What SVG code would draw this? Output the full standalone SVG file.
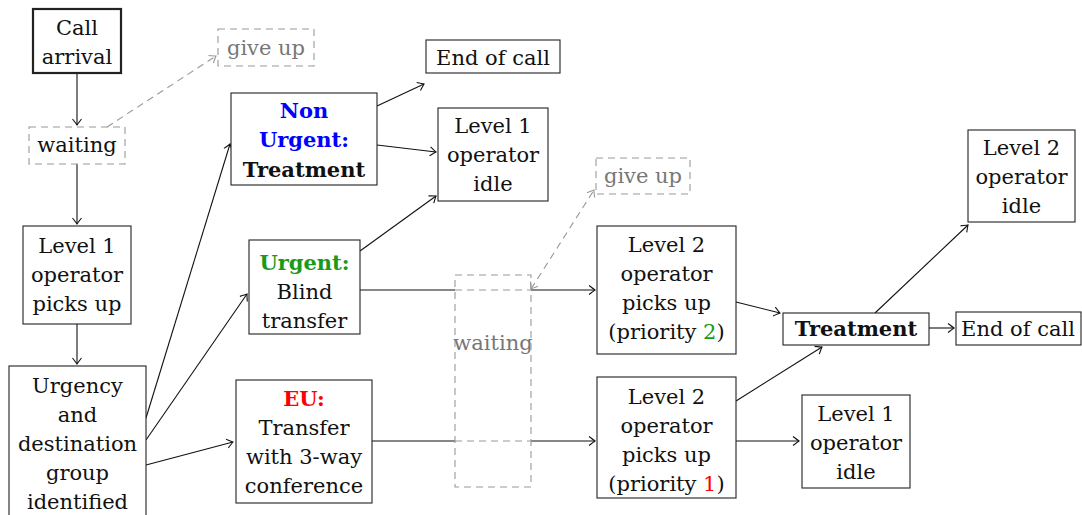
<svg xmlns="http://www.w3.org/2000/svg" width="1082" height="515" viewBox="0 0 1082 515">
<defs>
<style>
text{font-family:"DejaVu Serif","Liberation Serif",serif;font-size:21px;text-anchor:middle;fill:#111}
.b{font-weight:bold}
.g{fill:#777}
.box{fill:#fff;stroke:#222;stroke-width:1.1}
.thick{stroke-width:2.2}
.dbox{fill:none;stroke:#999;stroke-width:1.1;stroke-dasharray:7 5}
.c{fill:none;stroke:#111;stroke-width:1.1}
.dc{fill:none;stroke:#999;stroke-width:1.1;stroke-dasharray:7 5}
</style>
<marker id="ah" viewBox="-10 -6 12 12" markerWidth="12" markerHeight="12" refX="0" refY="0" orient="auto" markerUnits="userSpaceOnUse">
<path d="M-6,-4.5 Q-1.5,-1 0,0 Q-1.5,1 -6,4.5" fill="none" stroke="#111" stroke-width="1.1"/>
</marker>
<marker id="ahg" viewBox="-10 -6 12 12" markerWidth="12" markerHeight="12" refX="0" refY="0" orient="auto-start-reverse" markerUnits="userSpaceOnUse">
<path d="M-6,-4.5 Q-1.5,-1 0,0 Q-1.5,1 -6,4.5" fill="none" stroke="#999" stroke-width="1.1"/>
</marker>
</defs>
<rect width="1082" height="515" fill="#fff"/>

<g id="connectors">
<line class="c" x1="77" y1="73" x2="77" y2="125" marker-end="url(#ah)"/>
<line class="dc" x1="107" y1="127" x2="216" y2="56" marker-end="url(#ahg)"/>
<line class="c" x1="77" y1="164" x2="77" y2="224" marker-end="url(#ah)"/>
<line class="c" x1="77" y1="324" x2="77" y2="364" marker-end="url(#ah)"/>
<line class="c" x1="146" y1="418" x2="230" y2="144" marker-end="url(#ah)"/>
<line class="c" x1="146" y1="440" x2="247" y2="294" marker-end="url(#ah)"/>
<line class="c" x1="146" y1="465" x2="233" y2="442" marker-end="url(#ah)"/>
<line class="c" x1="377" y1="106" x2="424" y2="84" marker-end="url(#ah)"/>
<line class="c" x1="377" y1="145" x2="436" y2="152" marker-end="url(#ah)"/>
<line class="c" x1="360" y1="251" x2="436" y2="196" marker-end="url(#ah)"/>
<line class="c" x1="360" y1="290" x2="455" y2="290"/>
<line class="dc" x1="455" y1="290" x2="531" y2="290"/>
<line class="c" x1="531" y1="290" x2="595" y2="290" marker-end="url(#ah)"/>
<line class="c" x1="372" y1="441" x2="455" y2="441"/>
<line class="dc" x1="455" y1="441" x2="531" y2="441"/>
<line class="c" x1="531" y1="441" x2="595" y2="441" marker-end="url(#ah)"/>
<line class="dc" x1="531" y1="289" x2="594" y2="190" marker-start="url(#ahg)" marker-end="url(#ahg)"/>
<line class="c" x1="736" y1="302" x2="780" y2="313" marker-end="url(#ah)"/>
<line class="c" x1="736" y1="401" x2="822" y2="347" marker-end="url(#ah)"/>
<line class="c" x1="736" y1="441" x2="799" y2="441" marker-end="url(#ah)"/>
<line class="c" x1="929" y1="328" x2="954" y2="328" marker-end="url(#ah)"/>
<line class="c" x1="875" y1="313" x2="968" y2="225" marker-end="url(#ah)"/>
</g>

<g id="call-arrival">
<rect class="box thick" x="33" y="9" width="88" height="64"/>
<text x="77" y="35">Call</text>
<text x="77" y="64">arrival</text>
</g>
<g id="waiting-1">
<rect class="dbox" x="29" y="127" width="96" height="37"/>
<text x="77" y="152">waiting</text>
</g>
<g id="give-up-1">
<rect class="dbox" x="218" y="29" width="96" height="37"/>
<text class="g" x="266" y="55">give up</text>
</g>
<g id="level1-picks-up">
<rect class="box" x="23" y="226" width="108" height="98"/>
<text x="77" y="253">Level 1</text>
<text x="77" y="282">operator</text>
<text x="77" y="311">picks up</text>
</g>
<g id="urgency-identified">
<rect class="box" x="9" y="366" width="137" height="160"/>
<text x="77.5" y="393">Urgency</text>
<text x="77.5" y="422">and</text>
<text x="77.5" y="451">destination</text>
<text x="77.5" y="480">group</text>
<text x="77.5" y="509">identified</text>
</g>
<g id="non-urgent">
<rect class="box" x="231" y="93" width="146" height="92"/>
<text class="b" x="304" y="118" style="fill:#0000ff">Non</text>
<text class="b" x="304" y="147" style="fill:#0000ff">Urgent:</text>
<text class="b" x="304" y="177">Treatment</text>
</g>
<g id="end-of-call-1">
<rect class="box" x="426" y="40" width="134" height="33"/>
<text x="493" y="65">End of call</text>
</g>
<g id="level1-idle-1">
<rect class="box" x="438" y="108" width="110" height="93"/>
<text x="493" y="133">Level 1</text>
<text x="493" y="162">operator</text>
<text x="493" y="191">idle</text>
</g>
<g id="urgent-blind">
<rect class="box" x="249" y="240" width="111" height="94"/>
<text class="b" x="304.5" y="270" style="fill:#1a9a1a">Urgent:</text>
<text x="304.5" y="299">Blind</text>
<text x="304.5" y="328">transfer</text>
</g>
<g id="eu-transfer">
<rect class="box" x="236" y="380" width="136" height="123"/>
<text class="b" x="304" y="406" style="fill:#ff0000">EU:</text>
<text x="304" y="435">Transfer</text>
<text x="304" y="464">with 3-way</text>
<text x="304" y="493">conference</text>
</g>
<g id="waiting-2">
<rect class="dbox" x="455" y="275" width="76" height="212"/>
<text class="g" x="493" y="350">waiting</text>
</g>
<g id="give-up-2">
<rect class="dbox" x="596" y="158" width="94" height="36"/>
<text class="g" x="643" y="183">give up</text>
</g>
<g id="level2-prio2">
<rect class="box" x="597" y="226" width="139" height="128"/>
<text x="666.5" y="252">Level 2</text>
<text x="666.5" y="281">operator</text>
<text x="666.5" y="310">picks up</text>
<text x="666.5" y="339">(priority <tspan style="fill:#1a9a1a">2</tspan>)</text>
</g>
<g id="level2-prio1">
<rect class="box" x="597" y="377" width="139" height="121"/>
<text x="666.5" y="404">Level 2</text>
<text x="666.5" y="433">operator</text>
<text x="666.5" y="462">picks up</text>
<text x="666.5" y="491">(priority <tspan style="fill:#ff0000">1</tspan>)</text>
</g>
<g id="treatment">
<rect class="box" x="783" y="313" width="146" height="32"/>
<text class="b" x="856" y="336">Treatment</text>
</g>
<g id="end-of-call-2">
<rect class="box" x="956" y="312" width="125" height="33"/>
<text x="1018" y="336">End of call</text>
</g>
<g id="level2-idle">
<rect class="box" x="968" y="130" width="107" height="92"/>
<text x="1021.5" y="155">Level 2</text>
<text x="1021.5" y="184">operator</text>
<text x="1021.5" y="213">idle</text>
</g>
<g id="level1-idle-2">
<rect class="box" x="802" y="395" width="108" height="93"/>
<text x="856" y="421">Level 1</text>
<text x="856" y="450">operator</text>
<text x="856" y="479">idle</text>
</g>
</svg>
